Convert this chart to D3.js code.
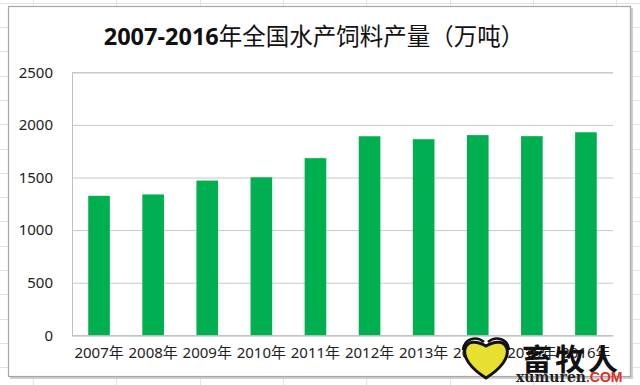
<!DOCTYPE html>
<html>
<head>
<meta charset="utf-8">
<style>
* { margin: 0; padding: 0; }
html, body { width: 640px; height: 385px; background: #fff; overflow: hidden; }
svg { display: block; }
</style>
</head>
<body>
<script src="https://cdn.jsdelivr.net/npm/d3@7/dist/d3.min.js"></script>
<script>
// data
var years = ["2007年", "2008年", "2009年", "2010年", "2011年", "2012年", "2013年", "2014年", "2015年", "2016年"];
var output = [1326, 1339, 1471, 1502, 1684, 1892, 1864, 1903, 1893, 1930];
var yTicks = [0, 500, 1000, 1500, 2000, 2500];

var width = 640, height = 385;
var margin = { top: 72.3, right: 27, bottom: 49.7, left: 72 };

var svg = d3.select("body").append("svg")
  .attr("width", width)
  .attr("height", height);

// spreadsheet cells behind the chart
var sheet = svg.append("g").attr("stroke", "#e3e3e3").attr("stroke-width", 1);
sheet.selectAll("line.row")
  .data(d3.range(0, 16))
  .join("line")
  .attr("x1", 0).attr("x2", width)
  .attr("y1", d => Math.round(2.7 + d * 24.3) + 0.5)
  .attr("y2", d => Math.round(2.7 + d * 24.3) + 0.5);
sheet.selectAll("line.col")
  .data(d3.range(0, 8))
  .join("line")
  .attr("y1", 0).attr("y2", height)
  .attr("x1", d => Math.round(33 + d * 83.3) + 0.5)
  .attr("x2", d => Math.round(33 + d * 83.3) + 0.5);

// chart frame
svg.append("rect")
  .attr("x", 10).attr("y", 8).attr("width", 623).attr("height", 371)
  .attr("fill", "#d0d0d0");
svg.append("rect")
  .attr("x", 8.5).attr("y", 6.5).attr("width", 622).attr("height", 370)
  .attr("fill", "#fff")
  .attr("stroke", "#a6a6a6")
  .attr("stroke-width", 1.2);

var x = d3.scaleBand()
  .domain(years)
  .range([margin.left, width - margin.right])
  .paddingInner(0.6)
  .paddingOuter(0.3);

var y = d3.scaleLinear()
  .domain([0, 2500])
  .range([height - margin.bottom, margin.top]);

// gridlines + value labels
var yAxis = svg.append("g")
  .attr("transform", `translate(${margin.left},0)`)
  .call(d3.axisLeft(y).tickValues(yTicks).tickFormat(d3.format("d"))
    .tickSize(-(width - margin.right - margin.left)).tickPadding(19));
yAxis.select(".domain").attr("stroke", "#bfbfbf");
yAxis.selectAll(".tick line").attr("stroke", "#c8c8c8");
yAxis.selectAll(".tick text")
  .attr("fill", "#222")
  .attr("font-family", "'Noto Sans', 'Noto Sans CJK SC', sans-serif")
  .attr("font-size", 15);

// bars
svg.append("g")
  .attr("fill", "#00b050")
  .selectAll("rect")
  .data(output)
  .join("rect")
  .attr("x", (d, i) => x(years[i]))
  .attr("y", d => y(d))
  .attr("width", x.bandwidth())
  .attr("height", d => y(0) - y(d));

// category axis
var xAxis = svg.append("g")
  .attr("transform", `translate(0,${y(0)})`)
  .call(d3.axisBottom(x).tickSize(0).tickPadding(12));
xAxis.select(".domain").attr("stroke", "#bfbfbf");
xAxis.selectAll(".tick text")
  .attr("fill", "#222")
  .attr("font-family", "'Noto Sans', 'Noto Sans CJK SC', sans-serif")
  .attr("font-size", 15);

// title
var title = svg.append("text")
  .attr("x", 314).attr("y", 45)
  .attr("text-anchor", "middle")
  .attr("font-family", "'Noto Sans CJK SC', sans-serif")
  .attr("font-size", 23.5)
  .attr("fill", "#111");
title.append("tspan").attr("font-weight", "bold").attr("font-family", "'Open Sans', 'Noto Sans', sans-serif").text("2007-2016");
title.append("tspan").attr("font-weight", "normal").text("年全国水产饲料产量（万吨）");

// watermark
var wm = svg.append("g");
wm.append("path")
  .attr("d", "M486,378 C470,368 463,357 465,349 C467,341 476,340 486,346 C496,340 505,341 507,349 C509,357 502,368 486,378 Z")
  .attr("fill", "#e8e030").attr("stroke", "#111").attr("stroke-width", 3);
wm.append("path")
  .attr("d", "M463,350 C464,339 476,335 484,342 M488,342 C496,335 508,339 509,350")
  .attr("fill", "none").attr("stroke", "#111").attr("stroke-width", 2.5);
wm.append("text")
  .attr("x", 522).attr("y", 370)
  .attr("font-family", "'Noto Sans CJK SC', sans-serif")
  .attr("font-weight", "bold")
  .attr("font-size", 30)
  .attr("letter-spacing", 3)
  .attr("fill", "#111")
  .text("畜牧人");
var wmt = wm.append("text")
  .attr("x", 516).attr("y", 382)
  .attr("font-family", "'DejaVu Serif', serif")
  .attr("font-weight", "bold")
  .attr("font-size", 14);
wmt.append("tspan").attr("fill", "#222").text("xumuren");
wmt.append("tspan").attr("fill", "#e0302a").attr("font-family", "'Liberation Sans', sans-serif").text(".COM");
</script>
</body>
</html>
